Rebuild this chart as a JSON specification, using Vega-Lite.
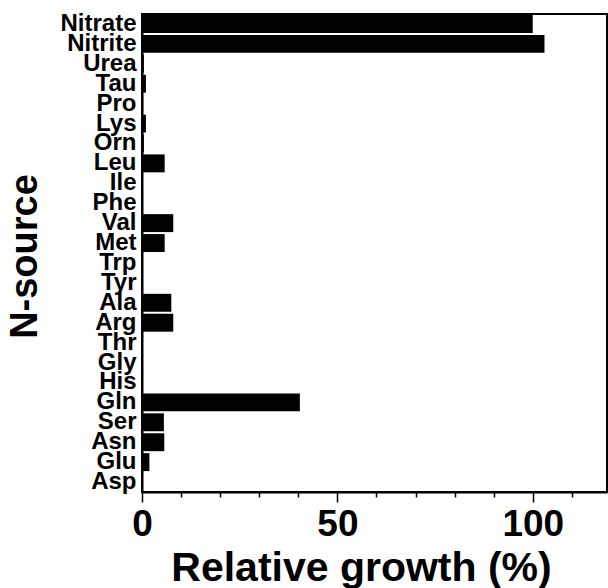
{
  "$schema": "https://vega.github.io/schema/vega-lite/v6.json",
  "width": 465,
  "height": 478,
  "autosize": {"type": "none"},
  "padding": {"left": 142, "top": 14, "right": 1, "bottom": 96},
  "config": {
    "view": {"stroke": "black", "strokeWidth": 2},
    "font": "Liberation Sans",
    "axis": {"domainColor": "black", "domainWidth": 2, "tickColor": "black", "labelColor": "black", "titleColor": "black", "grid": false}
  },
  "data": {
    "values": [
      {"source": "Nitrate", "growth": 100},
      {"source": "Nitrite", "growth": 103},
      {"source": "Urea", "growth": 0.5},
      {"source": "Tau", "growth": 1.0},
      {"source": "Pro", "growth": 0.3},
      {"source": "Lys", "growth": 1.0},
      {"source": "Orn", "growth": 0.5},
      {"source": "Leu", "growth": 5.8},
      {"source": "Ile", "growth": 0},
      {"source": "Phe", "growth": 0},
      {"source": "Val", "growth": 8.0},
      {"source": "Met", "growth": 5.8},
      {"source": "Trp", "growth": 0},
      {"source": "Tyr", "growth": 0},
      {"source": "Ala", "growth": 7.5},
      {"source": "Arg", "growth": 8.0},
      {"source": "Thr", "growth": 0},
      {"source": "Gly", "growth": 0},
      {"source": "His", "growth": 0},
      {"source": "Gln", "growth": 40.4},
      {"source": "Ser", "growth": 5.6},
      {"source": "Asn", "growth": 5.7},
      {"source": "Glu", "growth": 1.9},
      {"source": "Asp", "growth": 0}
    ]
  },
  "mark": {"type": "bar", "color": "black"},
  "encoding": {
    "y": {
      "field": "source",
      "type": "nominal",
      "sort": null,
      "scale": {"paddingInner": 0.1, "paddingOuter": 0.05},
      "axis": {
        "title": "N-source",
        "ticks": false,
        "labelFontSize": 24,
        "labelFontWeight": "bold",
        "labelPadding": 6,
        "titleFontSize": 38,
        "titleFontWeight": "bold",
        "titleAngle": -90,
        "titleX": -106,
        "titleY": 242,
        "titleAlign": "center",
        "titleBaseline": "alphabetic"
      }
    },
    "x": {
      "field": "growth",
      "type": "quantitative",
      "scale": {"domain": [0, 119], "nice": false},
      "axis": {
        "title": "Relative growth (%)",
        "values": [0, 10, 20, 30, 40, 50, 60, 70, 80, 90, 100, 110],
        "labelExpr": "datum.value % 50 === 0 ? datum.label : ''",
        "tickSize": {"condition": {"test": "datum.value % 50 === 0", "value": 10}, "value": 5},
        "tickWidth": 1.5,
        "labelFontSize": 37,
        "labelFontWeight": "bold",
        "labelBaseline": "alphabetic",
        "labelPadding": 33,
        "labelFlush": false,
        "titleFontSize": 41,
        "titleFontWeight": "bold",
        "titleX": 219,
        "titleY": 88,
        "titleAlign": "center",
        "titleBaseline": "alphabetic"
      }
    }
  }
}
